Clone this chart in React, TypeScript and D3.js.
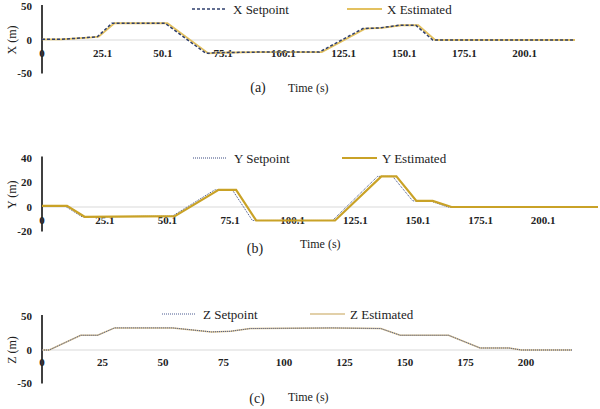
import React from "react";
import * as d3 from "d3";

// ---- Data ----
const xSetpointT = [0, 8, 20, 23, 29, 51, 68, 72, 90, 115, 133, 140, 148, 155, 162, 221];
const xSetpointV = [1, 1, 4, 5, 25, 25, -20, -19, -18, -18, 17, 18, 22, 22, 0, 0];
const xEstT = [0, 8, 20.5, 23.5, 30, 52, 69, 73, 90, 116, 134, 141, 149, 156, 163, 221];
const xEstV = [1, 1, 4, 5, 25, 25, -20, -19, -18, -18, 17, 18, 22, 22, 0, 0];

const ySetpointT = [0, 9, 16, 52, 69, 76, 84, 116, 134, 140, 148, 155, 162, 222];
const ySetpointV = [1, 1, -8, -7.5, 14, 14, -11, -11, 25, 25, 5, 5, 0, 0];
const yEstT = [0, 10, 17, 53, 70.5, 77.5, 85.5, 117, 135.5, 141.5, 149.5, 156, 163.5, 222];
const yEstV = [1, 1, -8, -7.5, 14, 14, -11, -11, 25, 25, 5, 5, 0, 0];

const zSetpointT = [0, 3, 16, 23, 30, 54, 62, 70, 78, 86, 120, 140, 148, 168, 181, 193, 198, 219];
const zSetpointV = [0, 0, 22, 22, 33, 33, 30, 27, 28, 32, 33, 32, 22, 22, 3, 3, 0, 0];
const zEstT = [0, 3, 16, 23, 30, 54, 62, 70, 78, 86, 120, 140, 148, 168, 181, 193, 198, 219];
const zEstV = [0, 0, 22, 22, 33, 33, 30, 27, 28, 32, 33, 32, 22, 22, 3, 3, 0, 0];

const xyTicks = [0, 25.1, 50.1, 75.1, 100.1, 125.1, 150.1, 175.1, 200.1];
const xyTickLabels = ["0", "25.1", "50.1", "75.1", "100.1", "125.1", "150.1", "175.1", "200.1"];
const zTicks = [0, 25, 50, 75, 100, 125, 150, 175, 200];
const zTickLabels = ["0", "25", "50", "75", "100", "125", "150", "175", "200"];
const yTicksA = [50, 0, -50];
const yTicksB = [40, 20, 0, -20];
const yTicksC = [50, 0, -50];

const FONT = "Liberation Serif";

type Panel = {
  xDomain: [number, number];
  xRange: [number, number];
  yDomain: [number, number];
  yRange: [number, number];
  xTicks: number[];
  xLabels: string[];
  yTicks: number[];
  tickY: number;
  yTitle: string;
  sT: number[]; sV: number[];
  eT: number[]; eV: number[];
  sStyle: { stroke: string; width: number; dash: string };
  eStyle: { stroke: string; width: number };
  estOnTop: boolean;
  legend: { sx: number; ex: number; y: number; sLabel: string; eLabel: string };
  caption: { x: number; y: number; text: string };
  timeLabel: { x: number; y: number };
};

const panels: Panel[] = [
  {
    xDomain: [0, 221], xRange: [42, 575],
    yDomain: [-50, 50], yRange: [73.5, 6.5],
    xTicks: xyTicks, xLabels: xyTickLabels, yTicks: yTicksA, tickY: 53,
    yTitle: "X (m)",
    sT: xSetpointT, sV: xSetpointV, eT: xEstT, eV: xEstV,
    sStyle: { stroke: "#2F3F6E", width: 1.5, dash: "3,2" },
    eStyle: { stroke: "#E3C160", width: 1.8 },
    estOnTop: false,
    legend: { sx: 192, ex: 347, y: 9, sLabel: "X Setpoint", eLabel: "X Estimated" },
    caption: { x: 258, y: 92, text: "(a)" },
    timeLabel: { x: 288, y: 92 },
  },
  {
    xDomain: [0, 222], xRange: [42, 598],
    yDomain: [-20, 40], yRange: [231.5, 158],
    xTicks: xyTicks, xLabels: xyTickLabels, yTicks: yTicksB, tickY: 220,
    yTitle: "Y (m)",
    sT: ySetpointT, sV: ySetpointV, eT: yEstT, eV: yEstV,
    sStyle: { stroke: "#3A4A80", width: 1, dash: "1,1" },
    eStyle: { stroke: "#C9A227", width: 2.2 },
    estOnTop: true,
    legend: { sx: 193, ex: 342, y: 158, sLabel: "Y Setpoint", eLabel: "Y Estimated" },
    caption: { x: 255, y: 253, text: "(b)" },
    timeLabel: { x: 300, y: 248 },
  },
  {
    xDomain: [0, 219], xRange: [42, 572],
    yDomain: [-50, 50], yRange: [383.5, 316.5],
    xTicks: zTicks, xLabels: zTickLabels, yTicks: yTicksC, tickY: 362,
    yTitle: "Z (m)",
    sT: zSetpointT, sV: zSetpointV, eT: zEstT, eV: zEstV,
    sStyle: { stroke: "#4A5A90", width: 1, dash: "1,1" },
    eStyle: { stroke: "#D8C08C", width: 1.5 },
    estOnTop: false,
    legend: { sx: 162, ex: 310, y: 314, sLabel: "Z Setpoint", eLabel: "Z Estimated" },
    caption: { x: 257, y: 403, text: "(c)" },
    timeLabel: { x: 288, y: 401 },
  },
];

function PanelView({ p }: { p: Panel }) {
  const x = d3.scaleLinear().domain(p.xDomain).range(p.xRange);
  const y = d3.scaleLinear().domain(p.yDomain).range(p.yRange);
  const line = d3.line<[number, number]>().x((d) => x(d[0])).y((d) => y(d[1]));
  const sPts = p.sT.map((t, i) => [t, p.sV[i]] as [number, number]);
  const ePts = p.eT.map((t, i) => [t, p.eV[i]] as [number, number]);
  const setPath = (
    <path d={line(sPts) || ""} fill="none" stroke={p.sStyle.stroke}
      strokeWidth={p.sStyle.width} strokeDasharray={p.sStyle.dash} />
  );
  const estPath = (
    <path d={line(ePts) || ""} fill="none" stroke={p.eStyle.stroke}
      strokeWidth={p.eStyle.width} />
  );
  const axisX = x(0);
  const yMid = (p.yRange[0] + p.yRange[1]) / 2;
  return (
    <g>
      <line x1={axisX} x2={p.xRange[1]} y1={y(0)} y2={y(0)} stroke="#D9D9D9" strokeWidth={1} />
      <line x1={axisX} x2={axisX} y1={p.yRange[1] - 1.5} y2={p.yRange[0]} stroke="#000" strokeWidth={1.5} />
      {p.yTicks.map((v) => (
        <text key={v} x={32} y={y(v)} dy="0.35em" textAnchor="end"
          fontFamily={FONT} fontWeight="bold" fontSize={11} fill="#222">{v}</text>
      ))}
      {p.xTicks.map((v, i) => (
        <text key={v} x={x(v)} y={p.tickY} dy="0.35em" textAnchor="middle"
          fontFamily={FONT} fontWeight="bold" fontSize={11} fill="#222">{p.xLabels[i]}</text>
      ))}
      <text transform={`translate(12,${yMid}) rotate(-90)`} textAnchor="middle" dy="0.35em"
        fontFamily={FONT} fontSize={12} fill="#222">{p.yTitle}</text>
      {p.estOnTop ? <>{setPath}{estPath}</> : <>{estPath}{setPath}</>}
      <line x1={p.legend.sx} x2={p.legend.sx + 34} y1={p.legend.y} y2={p.legend.y}
        stroke={p.sStyle.stroke} strokeWidth={p.sStyle.width} strokeDasharray={p.sStyle.dash} />
      <text x={p.legend.sx + 41} y={p.legend.y} dy="0.35em" fontFamily={FONT} fontSize={13} fill="#222">{p.legend.sLabel}</text>
      <line x1={p.legend.ex} x2={p.legend.ex + 35} y1={p.legend.y} y2={p.legend.y}
        stroke={p.eStyle.stroke} strokeWidth={p.eStyle.width} />
      <text x={p.legend.ex + 40} y={p.legend.y} dy="0.35em" fontFamily={FONT} fontSize={13} fill="#222">{p.legend.eLabel}</text>
      <text x={p.caption.x} y={p.caption.y} textAnchor="middle" fontFamily={FONT} fontSize={14} fill="#222">{p.caption.text}</text>
      <text x={p.timeLabel.x} y={p.timeLabel.y} fontFamily={FONT} fontSize={12} fill="#222">Time (s)</text>
    </g>
  );
}

export default function App() {
  return (
    <svg width={600} height={409} style={{ position: "absolute", left: 0, top: 0, background: "#fff" }}>
      <rect width={600} height={409} fill="#fff" />
      {panels.map((p, i) => <PanelView key={i} p={p} />)}
    </svg>
  );
}
